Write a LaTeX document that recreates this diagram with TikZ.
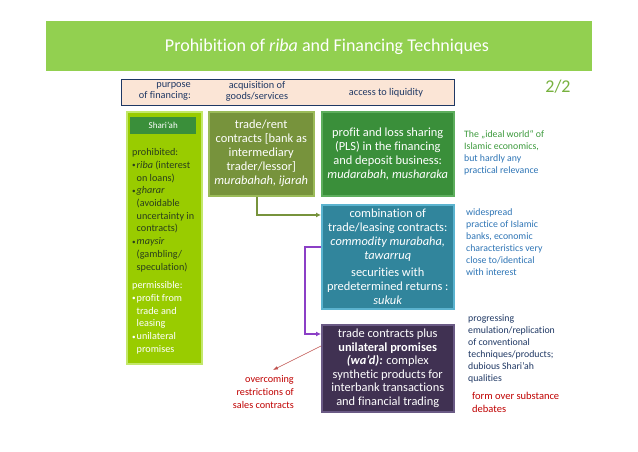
\documentclass[tikz,border=0pt]{standalone}
\usepackage{fontspec}
\setmainfont{Carlito}[Ligatures={TeX,NoCommon}]
\usetikzlibrary{arrows.meta,calc}
\definecolor{titlegreen}{HTML}{92D050}
\definecolor{hdrfill}{HTML}{FBE5D6}
\definecolor{hdrline}{HTML}{1F3864}
\definecolor{limefill}{HTML}{99CC00}
\definecolor{limeline}{HTML}{C3E86B}
\definecolor{shlabel}{HTML}{3A8F3A}
\definecolor{olivefill}{HTML}{77933C}
\definecolor{oliveline}{HTML}{9BBB59}
\definecolor{plsfill}{HTML}{3A8F3A}
\definecolor{plsline}{HTML}{5DAE5D}
\definecolor{tealfill}{HTML}{31859C}
\definecolor{tealline}{HTML}{5BB3CF}
\definecolor{purplefill}{HTML}{403152}
\definecolor{purpleline}{HTML}{6A5A85}
\definecolor{arrowpurple}{HTML}{8B3FC6}
\definecolor{arrowolive}{HTML}{77933C}
\definecolor{arrowred}{HTML}{C0504D}
\definecolor{darkred}{HTML}{C00000}
\definecolor{textblue}{HTML}{2E75B6}
\definecolor{textgreen}{HTML}{3C9A3C}
\definecolor{textnavy}{HTML}{1F3864}
\definecolor{ratiogreen}{HTML}{77B13E}
\definecolor{darktext}{HTML}{2A3F1C}
\newcommand{\bul}{\makebox[4.5pt][l]{\raisebox{0.5pt}{\scalebox{0.7}{\textbullet}}}}
\newcommand{\ind}{\hspace*{4.5pt}}
\begin{document}
\begin{tikzpicture}[x=1pt,y=-1pt,
  boxstyle/.style={draw, line width=1.5pt, inner sep=0pt, align=center, text=white, anchor=north west, font=\fontsize{12.4}{14}\selectfont},
  sidenote/.style={anchor=north west, align=left, inner sep=0pt, font=\fontsize{9.8}{12}\selectfont},
  hdrtext/.style={inner sep=0pt, text=textnavy, font=\fontsize{10.3}{11}\selectfont},
  shtext/.style={anchor=north west, align=left, inner sep=0pt, font=\fontsize{10.2}{12.7}\selectfont},
  connector/.style={line width=2pt, -{Latex[length=5pt,width=5pt]}}]
\useasboundingbox (0,0) rectangle (638,451);
\fill[white] (0,0) rectangle (638,451);
% title
\node[fill=titlegreen, minimum width=546pt, minimum height=50pt, anchor=north west, inner sep=0pt] (titlebar) at (46,21) {};
\node[text=white, font=\fontsize{18}{20}\selectfont, inner sep=0pt] (title) at (327,47) {Prohibition of \textit{riba} and Financing Techniques};
% header
\node[fill=hdrfill, draw=hdrline, line width=1.3pt, minimum width=333pt, minimum height=26pt, anchor=north west, inner sep=0pt] (header) at (121,79) {};
\node[hdrtext, align=right, anchor=east] (purpose) at (191,91.5) {purpose\\of financing:};
\node[hdrtext, align=center] (acq) at (257,91.5) {acquisition of\\goods/services};
\node[hdrtext] (access) at (386,92.5) {access to liquidity};
\node[text=ratiogreen, font=\fontsize{18}{20}\selectfont, inner sep=0pt] (ratio) at (558,87) {2/2};
% Shari'ah column
\node[fill=limefill, draw=limeline, line width=1.5pt, minimum width=75pt, minimum height=252pt, anchor=north west, inner sep=0pt] (shariah) at (126,111) {};
\node[fill=shlabel, minimum width=66pt, minimum height=17pt, anchor=north west, inner sep=0pt, text=white, font=\fontsize{9}{10}\selectfont] (shlabel) at (130,117) {Shari’ah};
\node[shtext, text=darktext] (prohib) at (132,148.5) {prohibited:\\
\bul\textit{riba} (interest\\
\ind on loans)\\
\bul\textit{gharar}\\
\ind (avoidable\\
\ind uncertainty in\\
\ind contracts)\\
\bul\textit{maysir}\\
\ind (gambling/\\
\ind speculation)};
\node[shtext, text=white] (permis) at (132,281.5) {permissible:\\
\bul profit from\\
\ind trade and\\
\ind leasing\\
\bul unilateral\\
\ind promises};
% main boxes
\node[boxstyle, fill=olivefill, draw=oliveline, minimum width=105pt, minimum height=84pt] (trade) at (208,111) {trade/rent\\contracts [bank as\\intermediary\\trader/lessor]\\\textit{murabahah, ijarah}};
\node[boxstyle, fill=plsfill, draw=plsline, minimum width=132pt, minimum height=84pt] (pls) at (321,111) {profit and loss sharing\\(PLS) in the financing\\and deposit business:\\\textit{mudarabah, musharaka}};
\node[boxstyle, fill=tealfill, draw=tealline, minimum width=132pt, minimum height=104pt] (comb) at (321,204) {combination of\\trade/leasing contracts:\\\textit{commodity murabaha,}\\\textit{tawarruq}\\[3pt]securities with\\predetermined returns :\\\textit{sukuk}};
\node[boxstyle, fill=purplefill, draw=purpleline, minimum width=132pt, minimum height=87pt, font=\fontsize{12.4}{13.6}\selectfont] (tcp) at (321,324) {trade contracts plus\\\textbf{unilateral promises}\\\textbf{\textit{(wa’d):}} complex\\synthetic products for\\interbank transactions\\and financial trading};
% connectors
\draw[connector, arrowolive] ([xshift=-4.5pt]trade.south) |- ([yshift=-11pt]comb.north west);
\draw[connector, arrowpurple, line width=1.6pt] ([yshift=-43pt]comb.north west) -- ++(-16,0) |- ([yshift=-10pt]tcp.north west);
\coordinate (redend) at (273,370);
\draw[arrowred, line width=0.6pt, -{Latex[length=5pt,width=3.5pt]}] ([yshift=-22pt]tcp.north west) -- (redend);
\node[anchor=north east, align=right, inner sep=0pt, text=darkred, font=\fontsize{10.2}{13}\selectfont] (overcome) at (294,375.5) {overcoming\\restrictions of\\sales contracts};
% side notes
\node[sidenote] (note1) at (464,130.7) {\textcolor{textgreen}{The „ideal world“ of}\\\textcolor{textgreen}{Islamic economics,}\\\textcolor{textblue}{but hardly any}\\\textcolor{textblue}{practical relevance}};
\node[sidenote, text=textblue] (note2) at (466,208.7) {widespread\\practice of Islamic\\banks, economic\\characteristics very\\close to/identical\\with interest};
\node[sidenote, text=textnavy] (note3) at (468,314.7) {progressing\\emulation/replication\\of conventional\\techniques/products;\\dubious Shari’ah\\qualities};
\node[sidenote, text=darkred, font=\fontsize{10.5}{13}\selectfont] (note4) at (472,392.3) {form over substance\\debates};
\end{tikzpicture}
\end{document}
